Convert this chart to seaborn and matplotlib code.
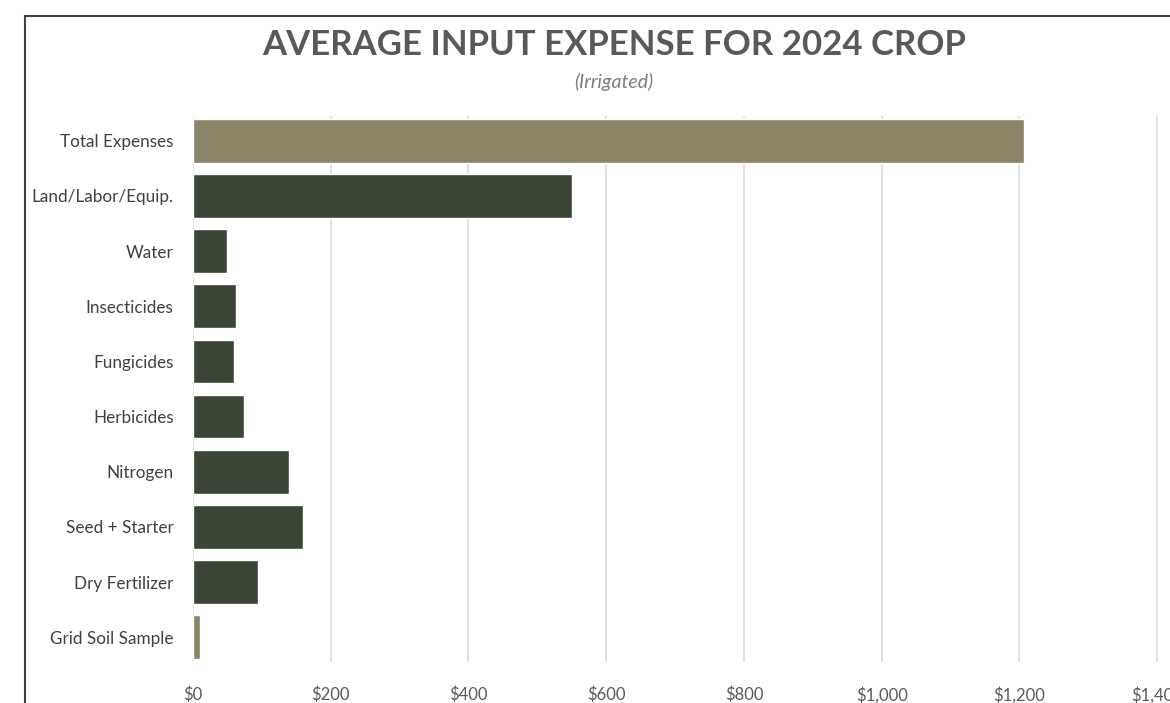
import matplotlib
matplotlib.use("Agg")
import matplotlib.pyplot as plt
import matplotlib.patches as mpatches
import seaborn as sns
import pandas as pd

# chart data
categories = ["Total Expenses", "Land/Labor/Equip.", "Water", "Insecticides", "Fungicides",
              "Herbicides", "Nitrogen", "Seed + Starter", "Dry Fertilizer", "Grid Soil Sample"]
values = [1207, 550, 49, 62, 59, 74, 139, 160, 94, 10]
groups = ["total", "item", "item", "item", "item", "item", "item", "item", "item", "soil"]
tick_values = [0, 200, 400, 600, 800, 1000, 1200, 1400]

df = pd.DataFrame({"category": categories, "value": values, "group": groups})

sns.set_theme(style="white")
plt.rcParams['font.family'] = ['Lato', 'DejaVu Sans']

fig = plt.figure(figsize=(11.7, 7.03), dpi=100)
W, H = 1170, 703
ax = fig.add_axes([193 / W, (H - 662) / H, (1226 - 193) / W, (662 - 116) / H])

palette = {"total": "#8b8466", "item": "#3a4535", "soil": "#8b8466"}
sns.barplot(data=df, y="category", x="value", hue="group", palette=palette, saturation=1,
            dodge=False, legend=False, width=0.79, orient="h", ax=ax, zorder=3)

ax.set_xlim(0, 1500)
ax.set_ylim(9.45, -0.45)
ax.set_xticks(tick_values)
ax.set_xticklabels([f"${v:,}" for v in tick_values])
ax.grid(axis="x", color="#d9d9d9", linewidth=1.2, zorder=0)
ax.set_axisbelow(True)
for s in ax.spines.values():
    s.set_visible(False)
ax.set_xlabel("")
ax.set_ylabel("")
ax.tick_params(axis="y", length=0, pad=14, labelsize=12.3, labelcolor="#404040")
ax.tick_params(axis="x", length=0, pad=18, labelsize=12, labelcolor="#595959")

fig.text(614 / W, 1 - 45 / H, "AVERAGE INPUT EXPENSE FOR 2024 CROP", ha="center", va="center",
         fontsize=25, fontweight="bold", color="#595959")
fig.text(614 / W, 1 - 82 / H, "(Irrigated)", ha="center", va="center",
         fontsize=14, fontstyle="italic", color="#7f7f7f")

# outer frame, cut off at right and bottom like the source
frame = mpatches.Rectangle((25 / W, -0.1), 1.2, 1 - 16 / H + 0.1, transform=fig.transFigure,
                           fill=False, edgecolor="#404040", linewidth=1.5, clip_on=False)
fig.patches.append(frame)

fig.savefig("out.png", dpi=100)
